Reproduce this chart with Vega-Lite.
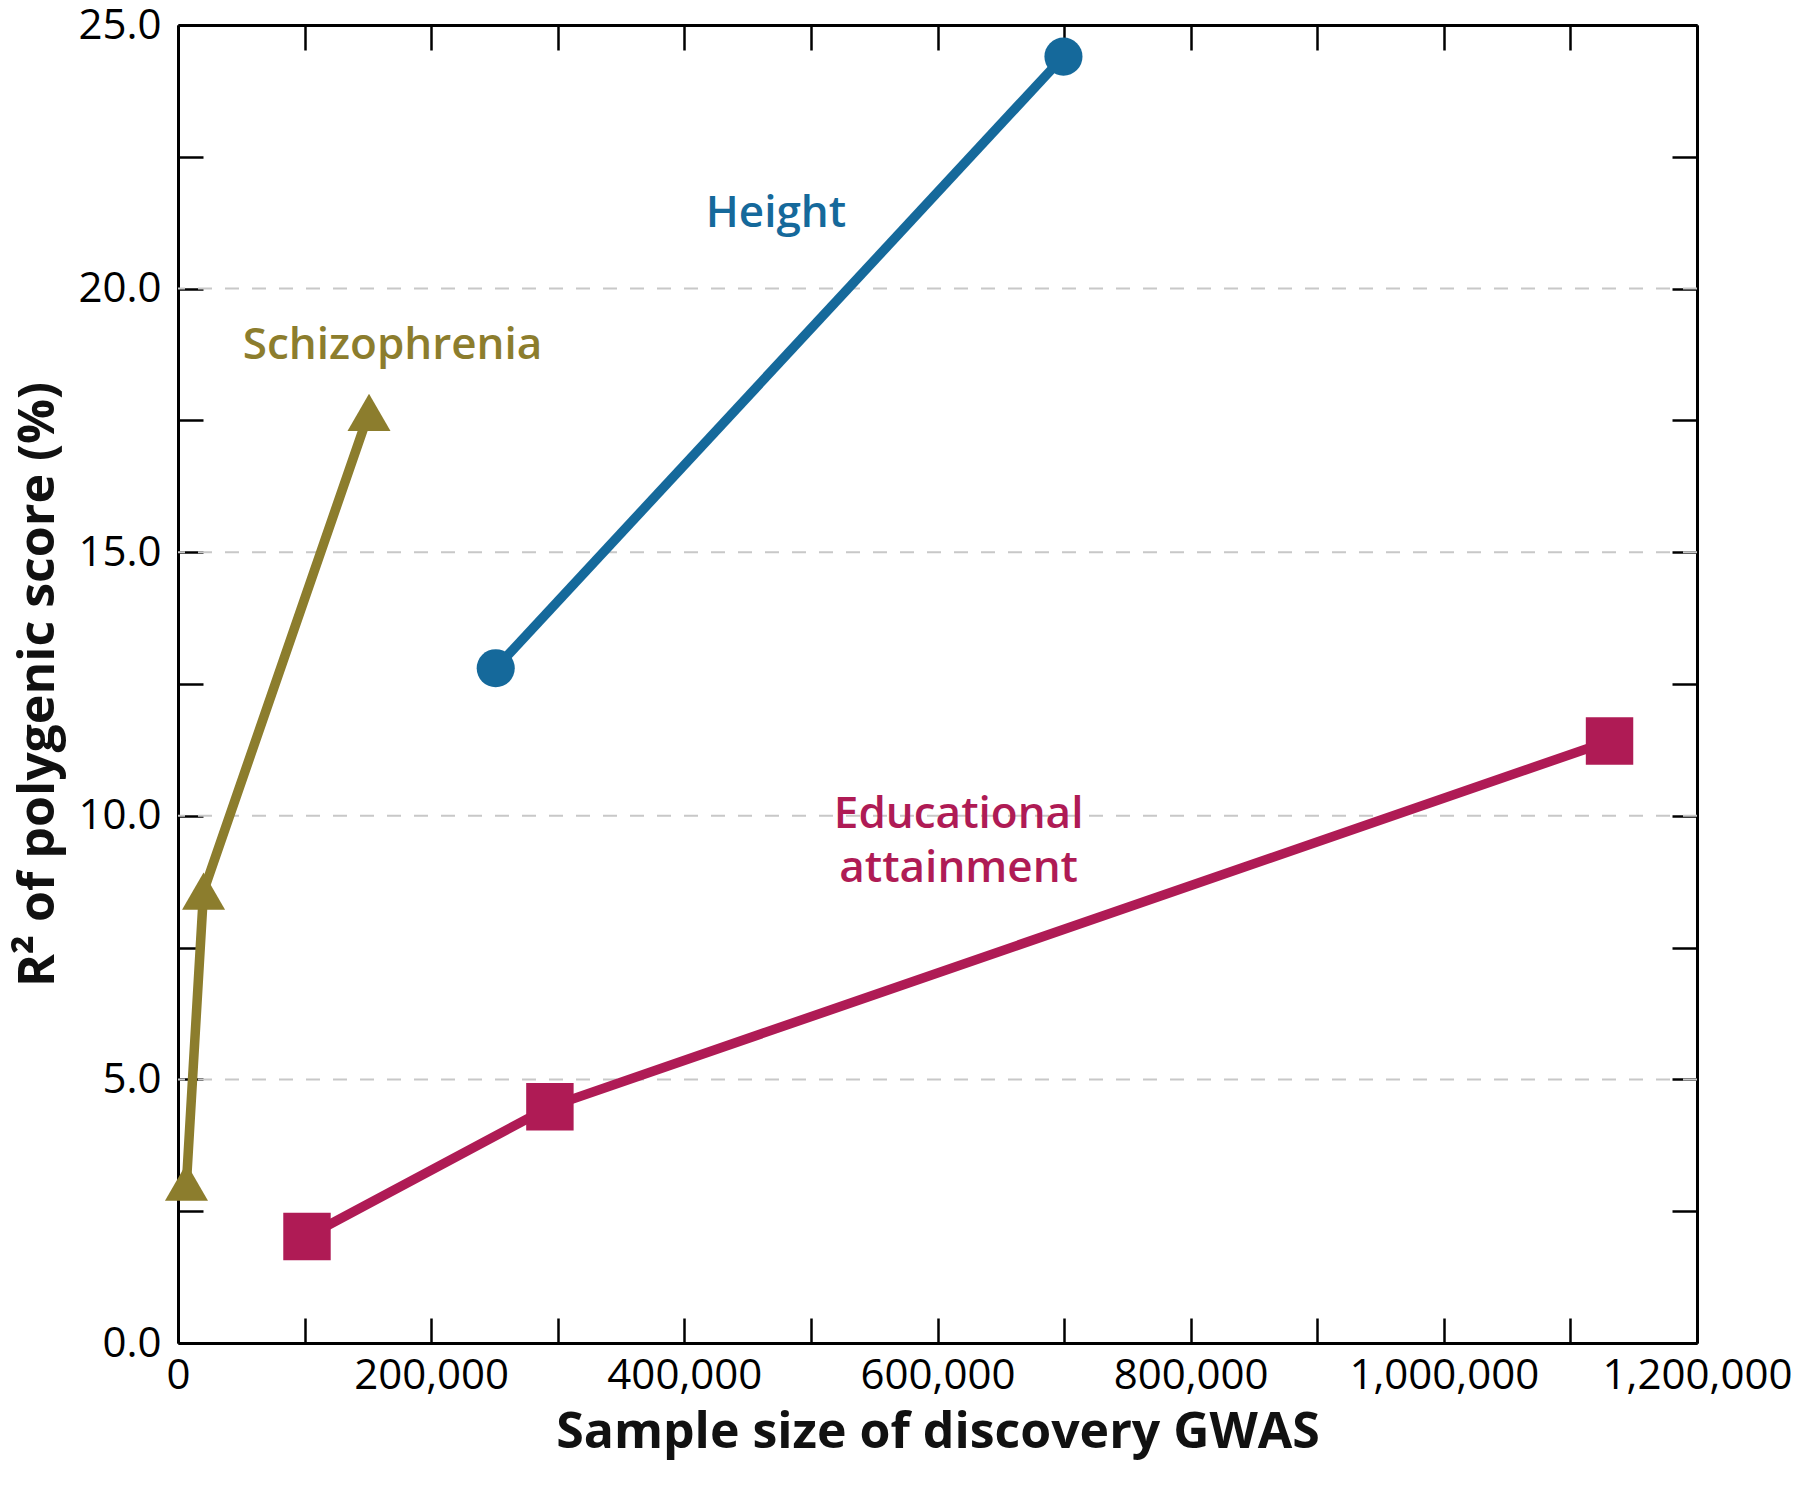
{
  "$schema": "https://vega.github.io/schema/vega-lite/v6.json",
  "width": 1519,
  "height": 1318,
  "autosize": {"type": "none"},
  "padding": {"left": 178, "top": 25, "right": 103, "bottom": 142},
  "background": "white",
  "config": {
    "view": {"stroke": null},
    "font": "Open Sans",
    "axis": {
      "domainColor": "#000000",
      "domainWidth": 3,
      "tickColor": "#000000",
      "tickWidth": 2.5,
      "tickSize": -25,
      "grid": false,
      "labelFont": "Open Sans",
      "labelFontSize": 42,
      "labelColor": "#000000",
      "labelOverlap": false,
      "labelFlush": false,
      "labelLimit": 0,
      "titleFont": "Open Sans",
      "titleFontSize": 50,
      "titleFontWeight": 700,
      "titleColor": "#111111",
      "titleLimit": 0
    }
  },
  "datasets": {
    "series": [
      {"series": "Height", "n": 251000, "r2": 12.8},
      {"series": "Height", "n": 699500, "r2": 24.4},
      {"series": "Schizophrenia", "n": 6700, "r2": 3.05},
      {"series": "Schizophrenia", "n": 20200, "r2": 8.57},
      {"series": "Schizophrenia", "n": 150900, "r2": 17.65},
      {"series": "Educational attainment", "n": 101900, "r2": 2.02},
      {"series": "Educational attainment", "n": 293800, "r2": 4.48},
      {"series": "Educational attainment", "n": 1130900, "r2": 11.42}
    ],
    "labels": [
      {"series": "Height", "text": "Height", "n": 472400, "r2": 21.42},
      {"series": "Schizophrenia", "text": "Schizophrenia", "n": 169500, "r2": 18.92},
      {"series": "Educational attainment", "text": "Educational", "n": 616700, "r2": 10.02},
      {"series": "Educational attainment", "text": "attainment", "n": 616700, "r2": 8.99}
    ],
    "grid": [{"v": 5}, {"v": 10}, {"v": 15}, {"v": 20}]
  },
  "layer": [
    {
      "data": {"name": "grid"},
      "mark": {"type": "rule", "color": "#c8c8c8", "strokeWidth": 2, "strokeDash": [14, 13]},
      "encoding": {
        "y": {"field": "v", "type": "quantitative", "scale": {"domain": [0, 25], "nice": false}, "axis": null}
      }
    },
    {
      "data": {"name": "series"},
      "mark": {"type": "line", "strokeWidth": 9.5},
      "encoding": {
        "x": {
          "field": "n", "type": "quantitative",
          "scale": {"domain": [0, 1200000], "nice": false},
          "axis": {
            "orient": "bottom",
            "values": [0, 100000, 200000, 300000, 400000, 500000, 600000, 700000, 800000, 900000, 1000000, 1100000, 1200000],
            "labelExpr": "datum.value % 200000 === 0 ? format(datum.value, ',') : ''",
            "labelPadding": 37,
            "title": "Sample size of discovery GWAS",
            "titlePadding": 11
          }
        },
        "y": {
          "field": "r2", "type": "quantitative",
          "scale": {"domain": [0, 25], "nice": false},
          "axis": {
            "orient": "left",
            "values": [0, 2.5, 5, 7.5, 10, 12.5, 15, 17.5, 20, 22.5, 25],
            "labelExpr": "datum.value % 5 === 0 ? format(datum.value, '.1f') : ''",
            "labelPadding": 42,
            "title": "R² of polygenic score (%)",
            "titlePadding": 14
          }
        },
        "color": {
          "field": "series", "type": "nominal",
          "scale": {"domain": ["Height", "Schizophrenia", "Educational attainment"], "range": ["#15699B", "#8C7D2D", "#AF1B55"]},
          "legend": null
        }
      }
    },
    {
      "data": {"name": "series"},
      "mark": {"type": "point", "filled": true, "opacity": 1},
      "encoding": {
        "x": {"field": "n", "type": "quantitative", "axis": null},
        "y": {"field": "r2", "type": "quantitative", "axis": null},
        "color": {"field": "series", "type": "nominal", "legend": null},
        "shape": {
          "field": "series", "type": "nominal",
          "scale": {"domain": ["Height", "Schizophrenia", "Educational attainment"], "range": ["circle", "triangle-up", "square"]},
          "legend": null
        },
        "size": {
          "field": "series", "type": "nominal",
          "scale": {"domain": ["Height", "Schizophrenia", "Educational attainment"], "range": [1450, 2250, 1521]},
          "legend": null
        }
      }
    },
    {
      "data": {"name": "labels"},
      "mark": {"type": "text", "font": "Open Sans", "fontSize": 44, "fontWeight": 600, "align": "center", "baseline": "middle"},
      "encoding": {
        "x": {"field": "n", "type": "quantitative", "axis": null},
        "y": {"field": "r2", "type": "quantitative", "axis": null},
        "text": {"field": "text"},
        "color": {"field": "series", "type": "nominal", "legend": null}
      }
    },
    {
      "data": {"name": "series"},
      "mark": {"type": "point", "opacity": 0},
      "encoding": {
        "x": {
          "field": "n", "type": "quantitative",
          "axis": {
            "orient": "top",
            "values": [0, 100000, 200000, 300000, 400000, 500000, 600000, 700000, 800000, 900000, 1000000, 1100000, 1200000],
            "labels": false,
            "title": null
          }
        },
        "y": {
          "field": "r2", "type": "quantitative",
          "axis": {
            "orient": "right",
            "values": [0, 2.5, 5, 7.5, 10, 12.5, 15, 17.5, 20, 22.5, 25],
            "labels": false,
            "title": null
          }
        }
      }
    }
  ],
  "resolve": {"axis": {"x": "independent", "y": "independent"}}
}
